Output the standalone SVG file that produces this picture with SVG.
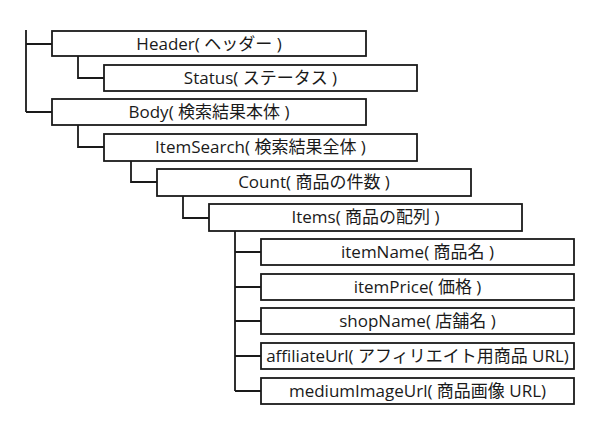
<svg xmlns="http://www.w3.org/2000/svg" width="596" height="422" viewBox="0 0 596 422">
<style>
.box{fill:#fff;stroke:#1a1a1a;stroke-width:1.8}
.ln{fill:none;stroke:#1a1a1a;stroke-width:1.8}
text{font-family:"Open Sans","Noto Sans CJK JP",sans-serif;font-size:17px;fill:#1a1a1a;text-anchor:middle}
</style>
<rect width="596" height="422" fill="#fff"/>
<g id="connectors">
<path class="ln" d="M26,30 V112 M26,44 H52 M26,112 H52"/>
<path class="ln" d="M78,56 V78 H104"/>
<path class="ln" d="M78,125 V147 H104"/>
<path class="ln" d="M131,161 V182 H157"/>
<path class="ln" d="M183,196 V218 H209"/>
<path class="ln" d="M235,231 V391 M235,252 H261 M235,287 H261 M235,321 H261 M235,356 H261 M235,391 H261"/>
</g>
<g id="header"><rect class="box" x="52" y="31" width="314" height="25"/><text x="209" y="49.5">Header( ヘッダー )</text></g>
<g id="status"><rect class="box" x="104" y="65" width="313" height="26"/><text x="260.5" y="84">Status( ステータス )</text></g>
<g id="body"><rect class="box" x="52" y="99" width="314" height="26"/><text x="209" y="118">Body( 検索結果本体 )</text></g>
<g id="itemsearch"><rect class="box" x="104" y="134" width="313" height="27"/><text x="260.5" y="153">ItemSearch( 検索結果全体 )</text></g>
<g id="count"><rect class="box" x="157" y="169" width="314" height="27"/><text x="314" y="188">Count( 商品の件数 )</text></g>
<g id="items"><rect class="box" x="209" y="204" width="313" height="27"/><text x="365.5" y="223">Items( 商品の配列 )</text></g>
<g id="itemname"><rect class="box" x="261" y="239" width="313" height="26"/><text x="417.5" y="258">itemName( 商品名 )</text></g>
<g id="itemprice"><rect class="box" x="261" y="274" width="313" height="26"/><text x="417.5" y="293">itemPrice( 価格 )</text></g>
<g id="shopname"><rect class="box" x="261" y="308" width="313" height="26"/><text x="417.5" y="327">shopName( 店舗名 )</text></g>
<g id="affiliateurl"><rect class="box" x="261" y="343" width="313" height="26"/><text x="417.5" y="362">affiliateUrl( アフィリエイト用商品 URL)</text></g>
<g id="mediumimageurl"><rect class="box" x="261" y="378" width="313" height="26"/><text x="417.5" y="397">mediumImageUrl( 商品画像 URL)</text></g>
</svg>
